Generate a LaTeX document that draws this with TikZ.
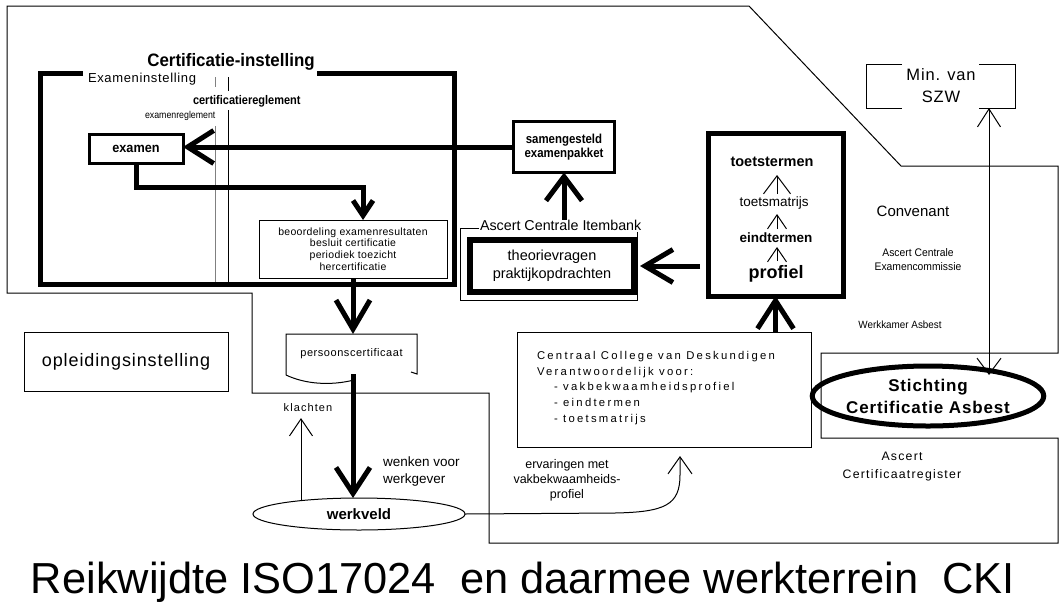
\documentclass[tikz,border=0pt]{standalone}
\usepackage{fontspec}
\setmainfont{Liberation Sans}
\newfontfamily\narA[FakeStretch=0.88]{Liberation Sans}
\newfontfamily\narB[FakeStretch=0.94]{Liberation Sans}
\newfontfamily\spcS[LetterSpace=3]{Liberation Sans}
\newfontfamily\spcA[LetterSpace=5]{Liberation Sans}
\newfontfamily\spcB[LetterSpace=10]{Liberation Sans}
\newfontfamily\spcC[LetterSpace=20]{Liberation Sans}
\usetikzlibrary{arrows.meta,shapes.geometric,calc}
\newcommand\fsz[2]{\fontsize{#1}{#2}\selectfont}
\tikzset{
  thin/.style={line width=1pt},
  box/.style={draw, line width=1pt, rectangle},
  bar/.style 2 args={line width=5pt, -{Straight Barb[length=#1pt,width=#2pt]}},
  thinarr/.style 2 args={line width=1pt, -{Straight Barb[length=#1pt,width=#2pt]}},
}
\begin{document}
\begin{tikzpicture}[x=1pt,y=-1pt, every node/.style={inner sep=0pt, outer sep=0pt}]
\fill[white] (0,0) rectangle (1063,611);
\useasboundingbox (0,0) rectangle (1063,611);

% outer thin frame
\draw[thin] (7,6) -- (749,6) -- (901,166) -- (1058,166) -- (1058,353) -- (821,353) -- (821,438) -- (1058,438) -- (1058,543) -- (489,543) -- (489,393) -- (252,393) -- (252,293) -- (7,293) -- cycle;

% Certificatie-instelling
\node[minimum width=414pt, minimum height=211pt] (ci) at (247,178.5) {};
\draw[line width=5pt] ($(ci.north west)+(43,0)$) -- (ci.north west) -- (ci.south west) -- (ci.south east) -- (ci.north east) -- ($(ci.north east)+(-137,0)$);
\node[font=\bfseries\narB\fsz{18}{20}] (citl) at (231,62) {Certificatie-instelling};
\node[anchor=west, font=\spcA\fsz{13}{15}] (ei) at (88,79) {Exameninstelling};

\draw[thin, gray] (215,77) -- (215,87) (215,126) -- (215,282);
\draw[thin] (228,77) -- (228,91) (228,110) -- (228,282);
\node[anchor=west, font=\bfseries\narA\fsz{12.5}{14}] (cr) at (193,101) {certificatiereglement};
\node[anchor=west, font=\narA\fsz{10}{12}] (er) at (145,116) {examenreglement};

\node[draw, line width=3pt, minimum width=94pt, minimum height=29pt, font=\bfseries\narB\fsz{13.5}{15}] (ex) at (136,149) {examen};
\node[draw, line width=3.5pt, minimum width=101pt, minimum height=51pt, align=center, font=\bfseries\narA\fsz{13}{14}] (sam) at (564,147) {samengesteld\\examenpakket};
\draw[bar={26}{33}] (sam.west) -- (sam.west -| ex.east);

\node[box, minimum width=188pt, minimum height=58pt, align=center, font=\spcS\fsz{10.5}{11.7}] (beo) at (353,249) {beoordeling examenresultaten\\besluit certificatie\\periodiek toezicht\\hercertificatie};
\draw[bar={15}{20}] (ex.south) -- ++(0,24) -| ($(beo.north)+(10,0)$);

% persoonscertificaat
\node[minimum width=131pt, minimum height=40pt, font=\spcA\fsz{11}{13}] (pc) at (351.5,354) {persoonscertificaat};
\draw[thin] ($(pc.south west)+(0,1)$) -- (pc.north west) -- (pc.north east) -- (pc.south east) -- ++(-6,-2);
\draw[thin] ($(pc.south west)+(0,1)$) .. controls (305,384) and (330,386) .. (354,380);
\draw[bar={29}{34}] (beo.south) -- (beo.south |- pc.north);

% werkveld
\node[ellipse, draw, thin, fill=white, minimum width=212pt, minimum height=32pt, font=\bfseries\fsz{15}{17}] (wv) at (359,514) {werkveld};
\draw[bar={26}{34}] (beo.south |- pc.south) -- (beo.south |- wv.north);
\node[font=\spcB\fsz{11}{13}] (kl) at (308,408) {klachten};
\draw[thinarr={17}{23}] (wv.167) -- ($(wv.167 |- kl.south)+(0,6)$);
\node[anchor=west, align=left, font=\fsz{13.5}{17}] (wk) at (383,471.5) {wenken voor\\werkgever};

% opleidingsinstelling
\node[box, minimum width=204pt, minimum height=59pt, font=\spcA\fsz{18}{20}] (opl) at (126,361.5) {opleidingsinstelling};

% Itembank
\node[minimum width=177pt, minimum height=72pt] (ib) at (548.5,264) {};
\draw[thin] ($(ib.north west)+(19,0)$) -- (ib.north west) -- (ib.south west) -- (ib.south east) -- ($(ib.north east)+(0,4)$);
\node[anchor=west, font=\fsz{14.3}{17}] (ibl) at (480,225) {Ascert Centrale Itembank};
\node[draw, line width=6pt, minimum width=164pt, minimum height=52pt, align=center, font=\fsz{14.5}{18}] (tv) at (552,266) {theorievragen\\praktijkopdrachten};
\draw[bar={24}{36}] (ibl.north -| sam.south) -- (sam.south);

% toetstermen
\node[draw, line width=5pt, minimum width=135pt, minimum height=163pt] (tt) at (775.5,214.5) {};
\node[font=\bfseries\fsz{14.5}{16}] (t1) at (772,162) {toetstermen};
\node[font=\fsz{13.5}{16}] (t2) at (774,203) {toetsmatrijs};
\node[font=\bfseries\fsz{13.5}{16}] (t3) at (776,238) {eindtermen};
\node[font=\bfseries\fsz{18}{20}] (t4) at (776,274) {profiel};
\coordinate (a1b) at (777,194); \coordinate (a1t) at (777,175);
\coordinate (a2b) at (777,229); \coordinate (a2t) at (777,214);
\coordinate (a3b) at (777,261); \coordinate (a3t) at (777,247);
\draw[thinarr={18}{27}] (a1b) -- (a1t);
\draw[thinarr={14}{19}] (a2b) -- (a2t);
\draw[thinarr={14}{19}] (a3b) -- (a3t);
\draw[bar={28}{33}, shorten <=8pt] (tt.west |- tv.east) -- ($(tv.east)+(6,0)$);

% Centraal College
\node[box, minimum width=294pt, minimum height=115pt] (cc) at (664,389.5) {};
\node[anchor=west, align=left, font=\spcC\fsz{11.3}{15.6}] (cct) at (537,388) {Centraal College van Deskundigen\\Verantwoordelijk voor:\\\hspace*{17pt}- vakbekwaamheidsprofiel\\\hspace*{17pt}- eindtermen\\\hspace*{17pt}- toetsmatrijs};
\draw[bar={28}{36}] (cc.north -| tt.south) -- (tt.south);
\node[align=center, font=\fsz{12.5}{15}] (erv) at (567,480) {ervaringen met\\vakbekwaamheids-\\profiel};
\coordinate (cctip) at ($(cc.south)+(16,9)$);
\draw[thinarr={17}{24}] (wv.east) -- (615,513) .. controls (665,512) and (680,505) .. (680,475) -- (cctip);

% Min. van SZW
\node[minimum width=149pt, minimum height=44pt] (min) at (940.5,86) {};
\draw[thin] ($(min.north west)+(36,0)$) -- (min.north west) -- (min.south west) -- ($(min.south west)+(36,0)$);
\draw[thin] ($(min.north east)+(-36,0)$) -- (min.north east) -- (min.south east) -- ($(min.south east)+(-36,0)$);
\node[align=center, font=\spcA\fsz{16.5}{22}] (mint) at (941,86) {Min. van\\SZW};

% Stichting
\node[ellipse, draw, line width=5pt, minimum width=212pt, minimum height=60pt, align=center, font=\bfseries\spcA\fsz{17}{22}] (sca) at (928,396) {Stichting\\Certificatie Asbest};
\coordinate (sztip) at (989,375);
\draw[line width=1pt, {Straight Barb[length=18pt,width=23pt]}-{Straight Barb[length=16pt,width=24pt]}] (sztip |- min.south) -- (sztip);

\node[font=\fsz{15}{17}] (conv) at (913,211) {Convenant};
\node[align=center, font=\narB\fsz{11}{14}] (ace) at (918,259.5) {Ascert Centrale\\Examencommissie};
\node[font=\narB\fsz{10.5}{12}] (wka) at (900,325) {Werkkamer Asbest};
\node[align=center, font=\spcB\fsz{12.3}{18}] (acr) at (902,467) {Ascert\\Certificaatregister};

\node[font=\fsz{43.4}{46}] (title) at (523,582) {Reikwijdte ISO17024\ \ en daarmee werkterrein\ \ CKI};
\end{tikzpicture}
\end{document}
